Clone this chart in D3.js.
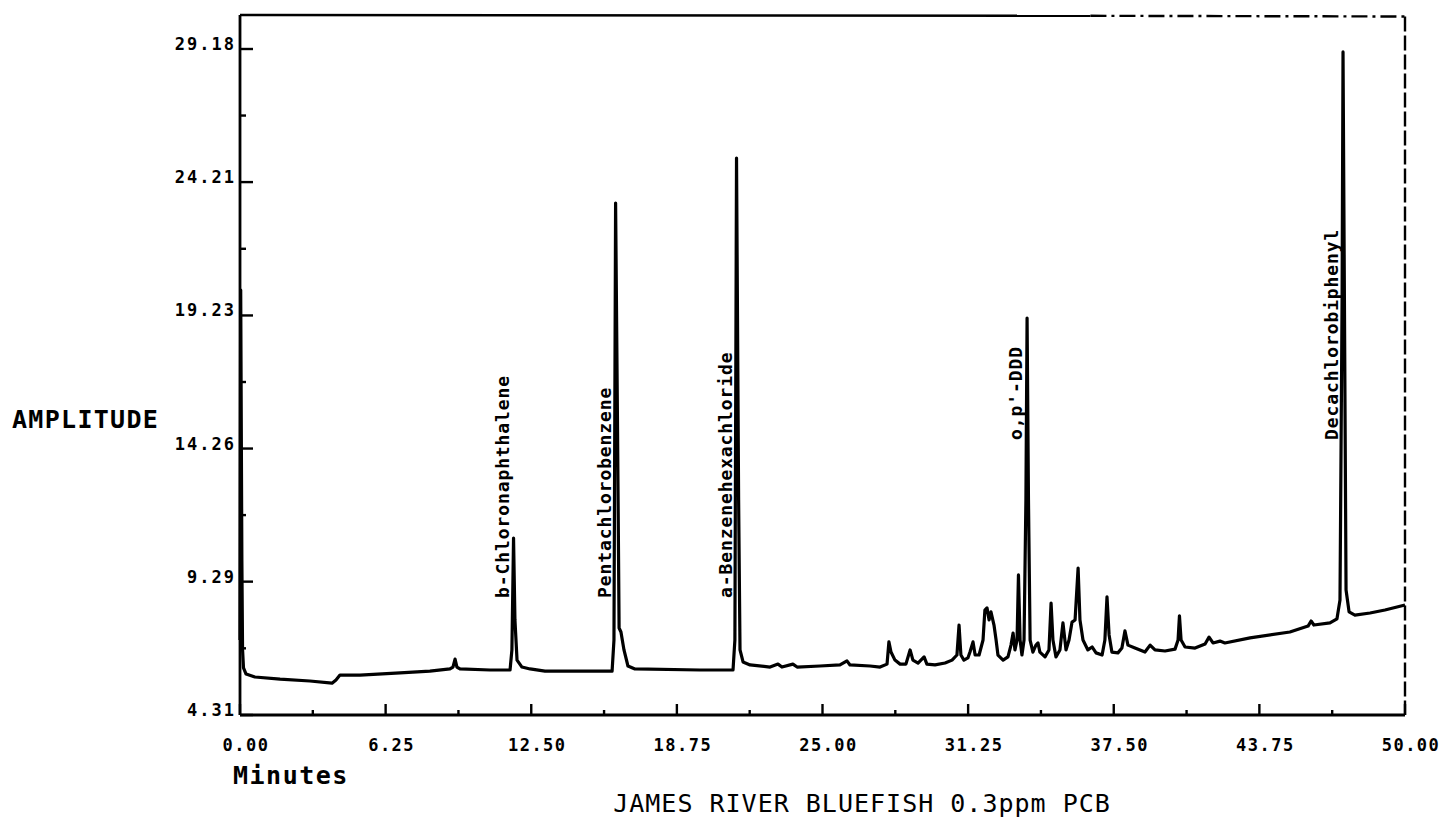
<!DOCTYPE html>
<html>
<head>
<meta charset="utf-8">
<script src="https://cdn.jsdelivr.net/npm/d3@7"></script>
<style>
  body { margin: 0; background: #fff; }
  .plotter { font-family: 'DejaVu Sans Mono', 'Liberation Mono', monospace; fill: #000; }
</style>
</head>
<body>
<div id="chart"></div>
<script>
// retention time (minutes) and detector amplitude
const times = [
  0.00, 0.03, 0.08, 0.11, 0.15, 0.26, 0.64, 1.72, 3.00, 3.95,
  4.12, 4.29, 5.15, 6.87, 8.15, 9.01, 9.14, 9.23, 9.31, 9.44,
  10.73, 11.59, 11.67, 11.74, 11.80, 11.89, 12.10, 12.45, 13.09, 15.97,
  16.05, 16.12, 16.20, 16.27, 16.35, 16.48, 16.65, 16.95, 19.74, 21.16,
  21.24, 21.31, 21.40, 21.46, 21.59, 21.89, 22.75, 23.09, 23.26, 23.73,
  23.91, 24.89, 25.75, 26.05, 26.18, 27.04, 27.47, 27.77, 27.85, 27.94,
  28.11, 28.33, 28.58, 28.76, 28.88, 29.10, 29.36, 29.48, 29.83, 30.26,
  30.56, 30.77, 30.86, 30.94, 31.07, 31.24, 31.33, 31.46, 31.55, 31.72,
  31.89, 31.97, 32.06, 32.15, 32.23, 32.36, 32.45, 32.53, 32.75, 32.96,
  33.09, 33.18, 33.26, 33.35, 33.41, 33.48, 33.56, 33.65, 33.73, 33.78,
  33.84, 33.91, 34.03, 34.16, 34.25, 34.33, 34.55, 34.72, 34.81, 34.89,
  35.02, 35.19, 35.32, 35.45, 35.58, 35.71, 35.84, 35.97, 36.05, 36.18,
  36.39, 36.57, 36.74, 37.00, 37.12, 37.21, 37.30, 37.42, 37.68, 37.85,
  37.98, 38.11, 38.41, 38.84, 39.06, 39.27, 39.70, 40.13, 40.26, 40.32,
  40.39, 40.56, 40.99, 41.42, 41.59, 41.76, 42.06, 42.27, 43.35, 45.06,
  45.84, 45.97, 46.09, 46.78, 47.08, 47.21, 47.30, 47.34, 47.40, 47.47,
  47.60, 47.85, 48.50, 49.14, 50.00
];
const amplitude = [
  7.11, 20.18, 10.10, 6.74, 6.07, 5.84, 5.73, 5.65, 5.58, 5.50,
  5.62, 5.80, 5.80, 5.88, 5.95, 6.03, 6.10, 6.40, 6.10, 6.03,
  5.99, 5.99, 6.74, 10.92, 7.86, 6.36, 6.10, 6.03, 5.95, 5.95,
  7.11, 23.43, 15.33, 7.56, 7.41, 6.74, 6.14, 6.03, 5.99, 5.99,
  7.11, 25.11, 12.34, 6.74, 6.29, 6.18, 6.10, 6.21, 6.10, 6.21,
  6.10, 6.14, 6.18, 6.33, 6.18, 6.14, 6.10, 6.21, 7.04, 6.66,
  6.36, 6.21, 6.21, 6.74, 6.36, 6.25, 6.48, 6.21, 6.18, 6.25,
  6.36, 6.55, 7.67, 6.55, 6.36, 6.44, 6.66, 7.04, 6.55, 6.55,
  7.11, 8.23, 8.31, 7.86, 8.16, 7.67, 7.11, 6.55, 6.36, 6.48,
  6.92, 7.37, 6.74, 7.11, 9.54, 7.11, 6.55, 7.11, 12.34, 19.13,
  12.34, 7.11, 6.66, 6.92, 7.00, 6.66, 6.48, 6.74, 8.49, 7.11,
  6.48, 6.74, 7.75, 6.74, 7.11, 7.78, 7.86, 9.80, 7.86, 7.11,
  6.74, 6.85, 6.63, 6.55, 7.11, 8.72, 7.30, 6.66, 6.63, 6.81,
  7.45, 6.92, 6.81, 6.66, 6.92, 6.74, 6.70, 6.77, 7.11, 8.01,
  7.11, 6.85, 6.81, 6.96, 7.22, 7.00, 7.07, 7.00, 7.19, 7.41,
  7.63, 7.82, 7.67, 7.75, 7.90, 8.60, 19.81, 29.07, 19.81, 8.98,
  8.16, 8.04, 8.12, 8.23, 8.42
];

// identified peaks
const peakNames = ['b-Chloronaphthalene', 'Pentachlorobenzene', 'a-Benzenehexachloride', "o,p'-DDD", 'Decachlorobiphenyl'];
const peakTimes = [11.74, 16.12, 21.31, 33.78, 47.34];
const peakLabelAmp = [8.68, 8.68, 8.68, 14.58, 14.58];

const yTicks = [4.31, 9.29, 14.26, 19.23, 24.21, 29.18];
const xTicks = [0, 6.25, 12.5, 18.75, 25, 31.25, 37.5, 43.75, 50];

const W = 1445, H = 818;
const margin = { top: 15, right: 40, bottom: 103, left: 240 };
const width = W - margin.left - margin.right;
const plotTop = 49 - margin.top;   // 29.18 sits a bit below the frame
const height = H - margin.top - margin.bottom;

const svg = d3.select('#chart').append('svg')
  .attr('width', W)
  .attr('height', H);

const g = svg.append('g')
  .attr('transform', 'translate(' + margin.left + ',' + margin.top + ')');

const x = d3.scaleLinear().domain([0, 50]).range([0, width]);
const y = d3.scaleLinear().domain([4.31, 29.18]).range([height, plotTop]);

// frame: solid left/bottom, dash-dot top, dashed right
g.append('line').attr('x1', 0).attr('x2', 0).attr('y1', 0).attr('y2', height)
  .attr('stroke', '#000').attr('stroke-width', 2.8);
g.append('line').attr('x1', 0).attr('x2', width).attr('y1', height).attr('y2', height)
  .attr('stroke', '#000').attr('stroke-width', 2.8);
g.append('line').attr('x1', 0).attr('x2', x(36.5)).attr('y1', 0).attr('y2', 0.8)
  .attr('stroke', '#000').attr('stroke-width', 2.6);
g.append('line').attr('x1', x(36.5)).attr('x2', width).attr('y1', 0.8).attr('y2', 1.5)
  .attr('stroke', '#000').attr('stroke-width', 2.4)
  .attr('stroke-dasharray', '16,5,3,5');
g.append('line').attr('x1', width).attr('x2', width).attr('y1', 1.5).attr('y2', height)
  .attr('stroke', '#000').attr('stroke-width', 2.4)
  .attr('stroke-dasharray', '15,4');

// y axis: labelled ticks point inward, unlabelled ticks halfway between
const yAxis = g.append('g').attr('class', 'plotter');
yTicks.forEach(function (v, i) {
  yAxis.append('line').attr('x1', 0).attr('x2', 13).attr('y1', y(v)).attr('y2', y(v))
    .attr('stroke', '#000').attr('stroke-width', 2.4);
  yAxis.append('text')
    .attr('x', -4).attr('y', y(v) + 1)
    .attr('text-anchor', 'end')
    .attr('font-size', 17).attr('font-weight', 'bold').attr('letter-spacing', 2)
    .text(v.toFixed(2));
  if (i < yTicks.length - 1) {
    const mid = (v + yTicks[i + 1]) / 2;
    yAxis.append('line').attr('x1', 0).attr('x2', 6).attr('y1', y(mid)).attr('y2', y(mid))
      .attr('stroke', '#000').attr('stroke-width', 2.4);
  }
});

// x axis ticks point up into the plot
const xAxis = g.append('g').attr('class', 'plotter');
xTicks.forEach(function (t, i) {
  xAxis.append('line').attr('x1', x(t)).attr('x2', x(t)).attr('y1', height).attr('y2', height - 11)
    .attr('stroke', '#000').attr('stroke-width', 2.4);
  xAxis.append('text')
    .attr('x', x(t) + 6).attr('y', height + 36)
    .attr('text-anchor', 'middle')
    .attr('font-size', 17).attr('font-weight', 'bold').attr('letter-spacing', 1.5)
    .text(t.toFixed(2));
  if (i < xTicks.length - 1) {
    const mid = (t + xTicks[i + 1]) / 2;
    xAxis.append('line').attr('x1', x(mid)).attr('x2', x(mid)).attr('y1', height).attr('y2', height - 5)
      .attr('stroke', '#000').attr('stroke-width', 2.4);
  }
});

// the trace
const line = d3.line()
  .x(function (d) { return x(d[0]); })
  .y(function (d) { return y(d[1]); });

g.append('path')
  .datum(d3.zip(times, amplitude))
  .attr('d', line)
  .attr('fill', 'none')
  .attr('stroke', '#000')
  .attr('stroke-width', 3.2)
  .attr('stroke-linejoin', 'round');

// peak names written up the left side of each peak
g.append('g').attr('class', 'plotter')
  .selectAll('text')
  .data(peakNames)
  .enter()
  .append('text')
  .attr('transform', function (d, i) {
    return 'translate(' + (x(peakTimes[i]) - 5) + ',' + y(peakLabelAmp[i]) + ') rotate(-90)';
  })
  .attr('font-size', 18).attr('font-weight', 'bold').attr('letter-spacing', 0.9)
  .text(function (d) { return d; });

// axis titles
svg.append('text').attr('class', 'plotter')
  .attr('x', 12).attr('y', 428)
  .attr('font-size', 25).attr('font-weight', 'bold').attr('letter-spacing', 1.3)
  .text('AMPLITUDE');

svg.append('text').attr('class', 'plotter')
  .attr('x', 233).attr('y', 784)
  .attr('font-size', 25).attr('font-weight', 'bold').attr('letter-spacing', 1.5)
  .text('Minutes');

svg.append('text').attr('class', 'plotter')
  .attr('x', 862).attr('y', 812)
  .attr('text-anchor', 'middle')
  .attr('font-size', 25).attr('letter-spacing', 1)
  .text('JAMES RIVER BLUEFISH 0.3ppm PCB');
</script>
</body>
</html>
